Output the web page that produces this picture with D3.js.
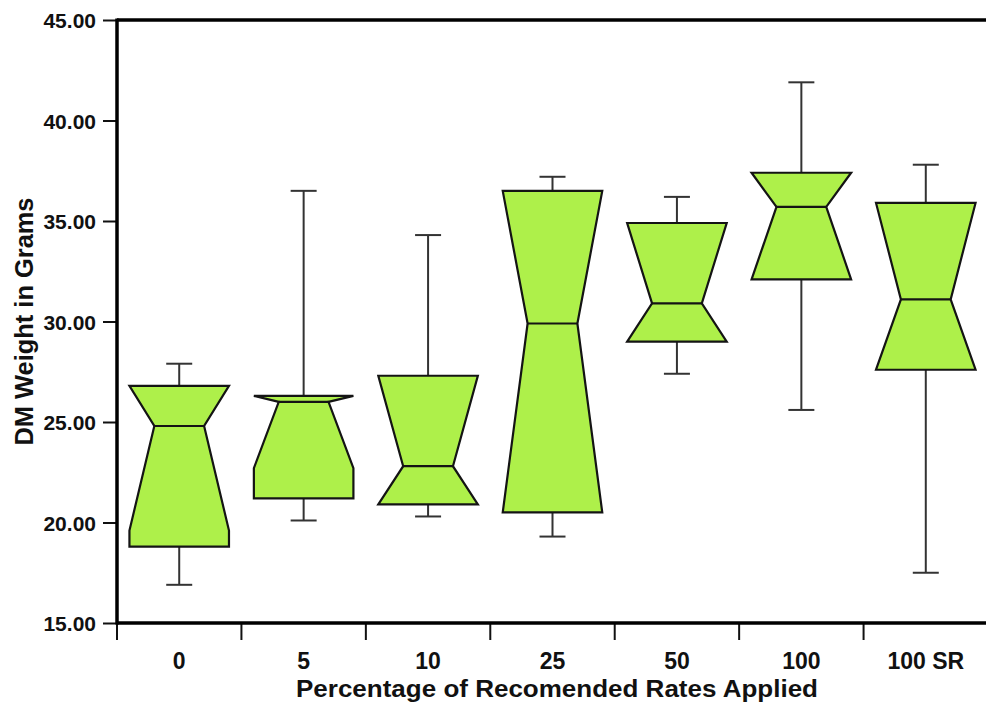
<!DOCTYPE html>
<html>
<head>
<meta charset="utf-8">
<script src="https://cdn.jsdelivr.net/npm/d3@7"></script>
<style>
  body { margin: 0; background: #fff; }
  svg { display: block; }
  text { font-family: "Liberation Sans", Arial, Helvetica, sans-serif; font-weight: bold; fill: #111; }
</style>
</head>
<body>
<div class="graphContainer"></div>
<script>
// Categories and box statistics
var categories = ["0", "5", "10", "25", "50", "100", "100 SR"];
var whiskerLow  = [16.9, 20.1, 20.3, 19.3, 27.4, 25.6, 17.5];
var q1          = [18.8, 21.2, 20.9, 20.5, 29.0, 32.1, 27.6];
var median      = [24.8, 26.0, 22.8, 29.9, 30.9, 35.7, 31.1];
var q3          = [26.8, 26.3, 27.3, 36.5, 34.9, 37.4, 35.9];
var whiskerHigh = [27.9, 36.5, 34.3, 37.2, 36.2, 41.9, 37.8];
var notchLow    = [19.6, 22.7, 20.9, 20.5, 29.0, 32.1, 27.6];
var notchHigh   = [26.8, 26.3, 27.3, 36.5, 34.9, 37.4, 35.9];
var yTicks = [15, 20, 25, 30, 35, 40, 45];

// Set the dimensions of the canvas / graph
var margin = {top: 20, right: 0, bottom: 85, left: 117},
    width = 988 - margin.left,
    height = 708 - margin.top - margin.bottom;

var x = d3.scaleBand().domain(categories).range([0, width]).paddingInner(0).paddingOuter(0);
var y = d3.scaleLinear().domain([15, 45]).range([height, 0]);

var data = categories.map(function(c, i) {
    return {cat: c, lo: whiskerLow[i], q1: q1[i], med: median[i], q3: q3[i],
            hi: whiskerHigh[i], nlo: notchLow[i], nhi: notchHigh[i]};
});

var svg = d3.select(".graphContainer")
    .append("svg")
        .attr("width", 986)
        .attr("height", 708)
    .append("g")
        .attr("transform", "translate(" + margin.left + "," + margin.top + ")");

var boxW = x.bandwidth() * 0.8,
    capW = 26;

// Whiskers
var wh = svg.selectAll(".whisker").data(data).enter().append("g")
    .attr("class", "whisker")
    .attr("stroke", "#333")
    .attr("stroke-width", 2);
wh.append("line")
    .attr("x1", function(d) { return x(d.cat) + x.bandwidth() / 2; })
    .attr("x2", function(d) { return x(d.cat) + x.bandwidth() / 2; })
    .attr("y1", function(d) { return y(d.lo); })
    .attr("y2", function(d) { return y(d.hi); });
wh.selectAll(".cap").data(function(d) { return [[d.cat, d.lo], [d.cat, d.hi]]; }).enter().append("line")
    .attr("x1", function(d) { return x(d[0]) + x.bandwidth() / 2 - capW / 2; })
    .attr("x2", function(d) { return x(d[0]) + x.bandwidth() / 2 + capW / 2; })
    .attr("y1", function(d) { return y(d[1]); })
    .attr("y2", function(d) { return y(d[1]); });

// Notched boxes
function boxPath(d) {
    var c = x(d.cat) + x.bandwidth() / 2,
        L = c - boxW / 2, R = c + boxW / 2,
        Ln = c - boxW / 4, Rn = c + boxW / 4;
    var pts = [[L, y(d.q1)], [L, y(d.nlo)], [Ln, y(d.med)], [L, y(d.nhi)], [L, y(d.q3)],
               [R, y(d.q3)], [R, y(d.nhi)], [Rn, y(d.med)], [R, y(d.nlo)], [R, y(d.q1)]];
    return "M" + pts.join("L") + "Z";
}
svg.selectAll(".box").data(data).enter().append("path")
    .attr("class", "box")
    .attr("d", boxPath)
    .attr("fill", "#aef04a")
    .attr("stroke", "#141414")
    .attr("stroke-width", 2.2)
    .attr("stroke-linejoin", "miter");
svg.selectAll(".med").data(data).enter().append("line")
    .attr("class", "med")
    .attr("x1", function(d) { return x(d.cat) + x.bandwidth() / 2 - boxW / 4; })
    .attr("x2", function(d) { return x(d.cat) + x.bandwidth() / 2 + boxW / 4; })
    .attr("y1", function(d) { return y(d.med); })
    .attr("y2", function(d) { return y(d.med); })
    .attr("stroke", "#141414")
    .attr("stroke-width", 2.2);

// Y axis
var yAxis = d3.axisLeft(y).tickValues(yTicks).tickFormat(d3.format(".2f")).tickSize(14).tickPadding(7);
var gy = svg.append("g").attr("class", "y axis").call(yAxis);
gy.select(".domain").remove();
gy.selectAll(".tick line").attr("stroke", "#111").attr("stroke-width", 2);
gy.selectAll(".tick text").attr("font-size", 21).style("font-size", "21px").attr("dy", "0.36em");

// X axis: labels centred on bands, ticks on band boundaries
var xAxis = d3.axisBottom(x).tickSize(0).tickPadding(46);
var gx = svg.append("g").attr("class", "x axis")
    .attr("transform", "translate(0," + height + ")")
    .call(xAxis);
gx.select(".domain").remove();
gx.selectAll(".tick text").style("font-size", "23px").attr("dy", "0");
gx.selectAll(".bound").data(categories).enter().append("line")
    .attr("class", "bound")
    .attr("x1", function(d) { return x(d); })
    .attr("x2", function(d) { return x(d); })
    .attr("y1", 0).attr("y2", 17)
    .attr("stroke", "#111").attr("stroke-width", 2);

// Frame lines
svg.append("line").attr("x1", 0).attr("x2", 0).attr("y1", -1.5).attr("y2", height + 1.5)
    .attr("stroke", "#000").attr("stroke-width", 3.5);
svg.append("line").attr("x1", 0).attr("x2", width).attr("y1", height).attr("y2", height)
    .attr("stroke", "#000").attr("stroke-width", 3.5);
svg.append("line").attr("x1", 0).attr("x2", width).attr("y1", 0).attr("y2", 0)
    .attr("stroke", "#000").attr("stroke-width", 3.5);

// Axis titles
svg.append("text")
    .attr("x", (296 + 818) / 2 - margin.left)
    .attr("y", height + 74)
    .attr("text-anchor", "middle")
    .attr("textLength", 522)
    .attr("lengthAdjust", "spacingAndGlyphs")
    .style("font-size", "23px")
    .text("Percentage of Recomended Rates Applied");

svg.append("text")
    .attr("transform", "translate(" + (33 - margin.left) + "," + (height / 2) + ") rotate(-90)")
    .attr("text-anchor", "middle")
    .attr("textLength", 248)
    .attr("lengthAdjust", "spacingAndGlyphs")
    .style("font-size", "26px")
    .text("DM Weight in Grams");
</script>
</body>
</html>
